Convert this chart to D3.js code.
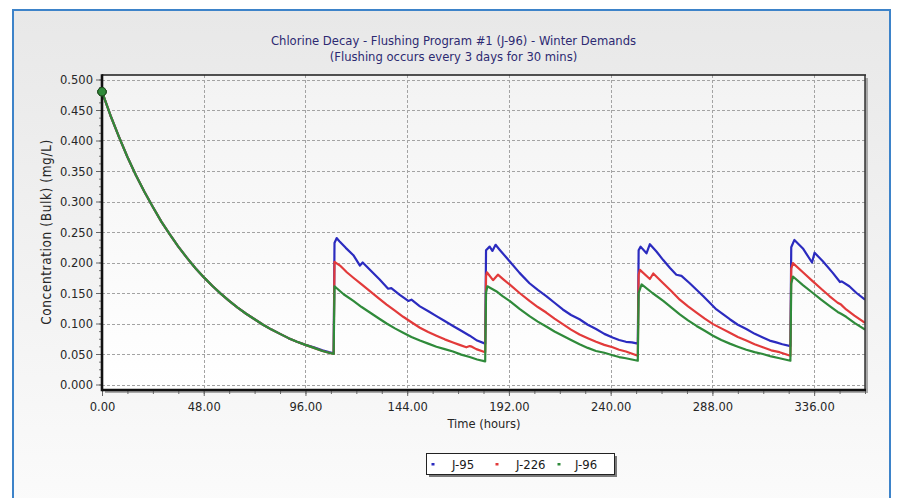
<!DOCTYPE html>
<html>
<head>
<meta charset="utf-8">
<script src="https://cdn.jsdelivr.net/npm/d3@7"></script>
<style>
  html, body { margin: 0; padding: 0; background: #ffffff; }
  svg { display: block; }
  text { font-family: "DejaVu Sans Condensed", "DejaVu Sans", sans-serif; }
</style>
</head>
<body>
<svg id="chart" width="898" height="498"></svg>
<script>
// ---------------- DATA ----------------
const titleLines = ["Chlorine Decay - Flushing Program #1 (J-96) - Winter Demands",
                    "(Flushing occurs every 3 days for 30 mins)"];
const xAxisTitle = "Time (hours)";
const yAxisTitle = "Concentration (Bulk) (mg/L)";
const seriesNames = ["J-95", "J-226", "J-96"];

const xTickValues = [0, 48, 96, 144, 192, 240, 288, 336];
const xTickLabels = ["0.00", "48.00", "96.00", "144.00", "192.00", "240.00", "288.00", "336.00"];
const yTickValues = [0, 0.05, 0.1, 0.15, 0.2, 0.25, 0.3, 0.35, 0.4, 0.45, 0.5];
const yTickLabels = ["0.000", "0.050", "0.100", "0.150", "0.200", "0.250", "0.300", "0.350", "0.400", "0.450", "0.500"];

// initial decay, identical for all junctions (hours, mg/L)
const initialDecay = [
  [0, 0.480], [4, 0.441], [8, 0.406], [12, 0.373], [16, 0.343], [20, 0.316], [24, 0.291],
  [28, 0.267], [32, 0.246], [36, 0.226], [40, 0.208], [44, 0.191], [48, 0.176], [52, 0.162],
  [56, 0.149], [60, 0.137], [64, 0.126], [68, 0.116], [72, 0.107], [76, 0.098], [80, 0.090],
  [84, 0.083], [88, 0.076], [92, 0.070], [96, 0.065]
];

const j95 = [
  [100, 0.061], [104, 0.056], [107, 0.053], [109.3, 0.051],
  [109.7, 0.232], [110.7, 0.240], [112, 0.235], [115, 0.224], [118.6, 0.212], [121.7, 0.195],
  [123, 0.200], [126.4, 0.188], [131, 0.172], [135, 0.157], [136.5, 0.158], [140.5, 0.147],
  [144.5, 0.137], [146, 0.139], [150, 0.128], [154, 0.120], [157.8, 0.112], [161.7, 0.104],
  [165.6, 0.096], [169.5, 0.088], [173.5, 0.080], [177, 0.072], [180.8, 0.067],
  [181.2, 0.220], [182.9, 0.226], [184.2, 0.219], [185.7, 0.229], [187.6, 0.221], [192.3, 0.202],
  [197, 0.183], [201.7, 0.166], [205.6, 0.155], [209.6, 0.145], [213.5, 0.134], [217.4, 0.123],
  [221.3, 0.114], [225.3, 0.107], [229.2, 0.098], [233.1, 0.091], [237, 0.083], [240.9, 0.077],
  [244, 0.073], [247.2, 0.070], [250, 0.069], [252.8, 0.067],
  [253.2, 0.220], [254.1, 0.226], [256.9, 0.215], [258.5, 0.230], [261.6, 0.218], [264.8, 0.204],
  [268, 0.191], [271, 0.180], [273.4, 0.178], [277.3, 0.166], [283.6, 0.145], [289.9, 0.123],
  [296.2, 0.107], [300, 0.098], [304, 0.091], [308, 0.083], [311.8, 0.077], [315, 0.072],
  [318.1, 0.069], [321, 0.066], [324.8, 0.063],
  [325.2, 0.225], [326.7, 0.237], [330.7, 0.223], [335, 0.200], [336.2, 0.216], [340.1, 0.202],
  [344.8, 0.183], [348.2, 0.168], [349, 0.169], [352.6, 0.161], [356, 0.150], [360, 0.139]
];

const j226 = [
  [100, 0.060], [104, 0.055], [109.3, 0.050],
  [109.7, 0.201], [112.3, 0.195], [115.5, 0.184], [118.6, 0.175], [122.5, 0.164], [126.4, 0.153],
  [130.3, 0.142], [134.3, 0.131], [138.2, 0.121], [142.1, 0.111], [146, 0.102], [150, 0.093],
  [153.9, 0.086], [157.8, 0.080], [161.7, 0.074], [165.6, 0.069], [168.7, 0.065], [171.9, 0.061],
  [173.5, 0.063], [174.5, 0.062], [176.6, 0.058], [180.8, 0.053],
  [181.2, 0.177], [181.6, 0.184], [184.5, 0.171], [186.8, 0.180], [189.5, 0.172], [192.3, 0.164],
  [197, 0.150], [201.7, 0.137], [205.6, 0.127], [209.6, 0.118], [213.5, 0.108], [217.4, 0.099],
  [221.3, 0.090], [225.3, 0.082], [229.2, 0.076], [233.1, 0.070], [237, 0.065], [240.9, 0.061],
  [244, 0.057], [247.2, 0.054], [252.8, 0.047],
  [253.2, 0.180], [253.8, 0.188], [258.5, 0.173], [260.1, 0.182], [264.8, 0.166], [268.7, 0.153],
  [272.6, 0.139], [276.5, 0.128], [280.5, 0.118], [284.4, 0.108], [288.3, 0.099], [292.2, 0.092],
  [296.2, 0.085], [300, 0.078], [304, 0.072], [307.9, 0.066], [311.8, 0.061], [315.7, 0.056],
  [319.7, 0.053], [324.8, 0.047],
  [325.2, 0.190], [326, 0.199], [330.7, 0.184], [335.4, 0.169], [339.3, 0.157], [343.2, 0.145],
  [347.1, 0.134], [348.7, 0.131], [351.1, 0.123], [355, 0.113], [360, 0.101]
];

const j96 = [
  [100, 0.060], [104, 0.055], [109.3, 0.050],
  [109.7, 0.161], [114, 0.148], [118.6, 0.137], [122.5, 0.127], [126.4, 0.118], [130.3, 0.109],
  [134.3, 0.100], [138.2, 0.092], [142.1, 0.085], [146, 0.078], [150, 0.072], [153.9, 0.067],
  [157.8, 0.062], [161.7, 0.058], [165.6, 0.054], [169.5, 0.049], [173.5, 0.045], [177, 0.041],
  [180.8, 0.038],
  [181.2, 0.150], [181.8, 0.161], [186, 0.153], [189, 0.145], [192.3, 0.137], [197, 0.124],
  [201.7, 0.112], [205.6, 0.103], [209.6, 0.095], [213.5, 0.087], [217.4, 0.080], [221.3, 0.073],
  [225.3, 0.066], [229.2, 0.060], [233.1, 0.055], [237, 0.052], [240.9, 0.048], [244, 0.045],
  [247.2, 0.043], [252.8, 0.039],
  [253.2, 0.150], [254.6, 0.164], [259.7, 0.150], [264.8, 0.137], [268.7, 0.126], [272.6, 0.115],
  [276.5, 0.105], [280.5, 0.096], [284.4, 0.088], [288.3, 0.080], [292.2, 0.073], [296.2, 0.067],
  [300, 0.062], [304, 0.057], [307.9, 0.053], [311.8, 0.050], [315.7, 0.046], [319.7, 0.043],
  [324.8, 0.039],
  [325.2, 0.165], [326, 0.177], [330.7, 0.163], [335.4, 0.150], [339.3, 0.139], [343.2, 0.129],
  [347.1, 0.119], [348.7, 0.116], [351.1, 0.111], [355, 0.101], [360, 0.090]
];

// ---------------- LAYOUT / STYLE ----------------
const W = 898, H = 498;
const plot = { left: 102, right: 865, top: 75, bottom: 390 };
const colors = { "J-95": "#2b2bbf", "J-226": "#e23a3a", "J-96": "#2f8a3a" };
const FONT = "'DejaVu Sans Condensed', 'DejaVu Sans', sans-serif";

const svg = d3.select("#chart");
const defs = svg.append("defs");

const bgGrad = defs.append("linearGradient").attr("id", "bgGrad")
  .attr("x1", 0).attr("y1", 0).attr("x2", 0).attr("y2", 1);
bgGrad.append("stop").attr("offset", "0%").attr("stop-color", "#e8e8e8");
bgGrad.append("stop").attr("offset", "100%").attr("stop-color", "#fbfbfb");

const plotGrad = defs.append("linearGradient").attr("id", "plotGrad")
  .attr("x1", 0).attr("y1", 0).attr("x2", 0).attr("y2", 1);
plotGrad.append("stop").attr("offset", "0%").attr("stop-color", "#f3f3f3");
plotGrad.append("stop").attr("offset", "100%").attr("stop-color", "#ffffff");

defs.append("clipPath").attr("id", "plotClip").append("rect")
  .attr("x", plot.left).attr("y", plot.top)
  .attr("width", plot.right - plot.left).attr("height", plot.bottom - plot.top);

// outer panel
svg.append("rect").attr("width", W).attr("height", H).attr("fill", "#ffffff");
svg.append("rect").attr("x", 13).attr("y", 10).attr("width", 877).attr("height", 500)
  .attr("fill", "url(#bgGrad)").attr("stroke", "#3d83c9").attr("stroke-width", 2);

// scales
const x = d3.scaleLinear().domain([0, 360]).range([plot.left, plot.right]);
const y = d3.scaleLinear().domain([0, 0.5]).range([384.5, 79.5]);

// plot shadow + background
svg.append("rect").attr("x", plot.left + 3).attr("y", plot.top + 3)
  .attr("width", plot.right - plot.left).attr("height", plot.bottom - plot.top)
  .attr("fill", "#a9a9a9");
svg.append("rect").attr("x", plot.left).attr("y", plot.top)
  .attr("width", plot.right - plot.left).attr("height", plot.bottom - plot.top)
  .attr("fill", "url(#plotGrad)");

// grid
const grid = svg.append("g").attr("stroke", "#a3a3a3").attr("stroke-width", 1)
  .attr("stroke-dasharray", "3,2").attr("fill", "none");
grid.selectAll("line.h").data(yTickValues).join("line")
  .attr("x1", plot.left).attr("x2", plot.right)
  .attr("y1", d => Math.round(y(d)) + 0.5).attr("y2", d => Math.round(y(d)) + 0.5);
grid.selectAll("line.v").data(xTickValues.filter(d => d > 0)).join("line")
  .attr("y1", plot.top).attr("y2", plot.bottom)
  .attr("x1", d => Math.round(x(d)) + 0.5).attr("x2", d => Math.round(x(d)) + 0.5);

// series lines
const line = d3.line().x(d => x(d[0])).y(d => y(d[1]));
const seriesData = [
  { name: "J-95", values: initialDecay.concat(j95) },
  { name: "J-226", values: initialDecay.concat(j226) },
  { name: "J-96", values: initialDecay.concat(j96) }
];
const lines = svg.append("g").attr("clip-path", "url(#plotClip)");
lines.selectAll("path").data(seriesData).join("path")
  .attr("d", d => line(d.values))
  .attr("fill", "none")
  .attr("stroke", d => colors[d.name])
  .attr("stroke-width", 2.2)
  .attr("stroke-linejoin", "round");

// frame
svg.append("line").attr("x1", plot.left).attr("x2", plot.right + 1)
  .attr("y1", plot.top).attr("y2", plot.top).attr("stroke", "#1a1a1a").attr("stroke-width", 1.6);
svg.append("line").attr("x1", plot.right).attr("x2", plot.right)
  .attr("y1", plot.top).attr("y2", plot.bottom).attr("stroke", "#333333").attr("stroke-width", 1.5);

// axes
const xMinor = d3.range(0, 361, 12);
const yMinor = d3.range(0, 0.5001, 0.0125);

const xAxisG = svg.append("g").attr("transform", `translate(0,${plot.bottom})`);
xAxisG.call(d3.axisBottom(x).tickValues(xMinor).tickSize(4).tickFormat(""));
xAxisG.call(g => g.select(".domain").remove());
xAxisG.selectAll(".tick line").attr("stroke", "#666666");
const xMajor = svg.append("g").attr("transform", `translate(0,${plot.bottom})`)
  .call(d3.axisBottom(x).tickValues(xTickValues).tickSize(6)
    .tickFormat((d, i) => xTickLabels[i]).tickPadding(6));
xMajor.select(".domain").remove();
xMajor.selectAll(".tick line").attr("stroke", "#666666");
xMajor.selectAll(".tick text").attr("font-size", 12.8).attr("fill", "#262626")
  .attr("font-family", FONT);

const yAxisG = svg.append("g").attr("transform", `translate(${plot.left},0)`);
yAxisG.call(d3.axisLeft(y).tickValues(yMinor).tickSize(3).tickFormat(""));
yAxisG.call(g => g.select(".domain").remove());
yAxisG.selectAll(".tick line").attr("stroke", "#777777");
const yMajor = svg.append("g").attr("transform", `translate(${plot.left},0)`)
  .call(d3.axisLeft(y).tickValues(yTickValues).tickSize(6)
    .tickFormat((d, i) => yTickLabels[i]).tickPadding(3));
yMajor.select(".domain").remove();
yMajor.selectAll(".tick line").attr("stroke", "#666666");
yMajor.selectAll(".tick text").attr("font-size", 12.8).attr("fill", "#262626")
  .attr("font-family", FONT);

// thick left and bottom axis lines
svg.append("line").attr("x1", plot.left).attr("x2", plot.right + 1)
  .attr("y1", plot.bottom).attr("y2", plot.bottom).attr("stroke", "#111111").attr("stroke-width", 2.6);
svg.append("line").attr("x1", plot.left).attr("x2", plot.left)
  .attr("y1", plot.top - 0.8).attr("y2", plot.bottom + 1.3).attr("stroke", "#111111").attr("stroke-width", 2.6);

// start markers
svg.append("g").selectAll("circle").data(seriesData).join("circle")
  .attr("cx", d => x(d.values[0][0])).attr("cy", d => y(d.values[0][1]))
  .attr("r", 4.2)
  .attr("fill", d => colors[d.name])
  .attr("stroke", "#1e4d1e").attr("stroke-width", 1);

// titles
svg.append("text").attr("x", 453.5).attr("y", 44.5).attr("text-anchor", "middle")
  .attr("font-size", 12.9).attr("fill", "#2d2a72").text(titleLines[0]);
svg.append("text").attr("x", 453.5).attr("y", 61).attr("text-anchor", "middle")
  .attr("font-size", 12.9).attr("fill", "#2d2a72").text(titleLines[1]);

svg.append("text").attr("x", 484).attr("y", 428).attr("text-anchor", "middle")
  .attr("font-size", 12.8).attr("fill", "#262626").text(xAxisTitle);
svg.append("text").attr("transform", `translate(51,232) rotate(-90)`).attr("text-anchor", "middle")
  .attr("font-size", 13.5).attr("letter-spacing", 0.6).attr("fill", "#262626").text(yAxisTitle);

// legend
const lg = svg.append("g");
lg.append("rect").attr("x", 429).attr("y", 456).attr("width", 188).attr("height", 21).attr("fill", "#7a7a7a");
lg.append("rect").attr("x", 426.5).attr("y", 453.5).attr("width", 188).attr("height", 21)
  .attr("fill", "#ffffff").attr("stroke", "#222222").attr("stroke-width", 1);
const legendX = [433, 497, 559];
const legendTextX = [452, 516, 575];
seriesNames.forEach((name, i) => {
  lg.append("rect").attr("x", legendX[i] - 1.5).attr("y", 463).attr("width", 3).attr("height", 2.5)
    .attr("fill", colors[name]);
  lg.append("text").attr("x", legendTextX[i]).attr("y", 469).attr("font-size", 13)
    .attr("fill", "#1a1a1a").text(name);
});
</script>
</body>
</html>
